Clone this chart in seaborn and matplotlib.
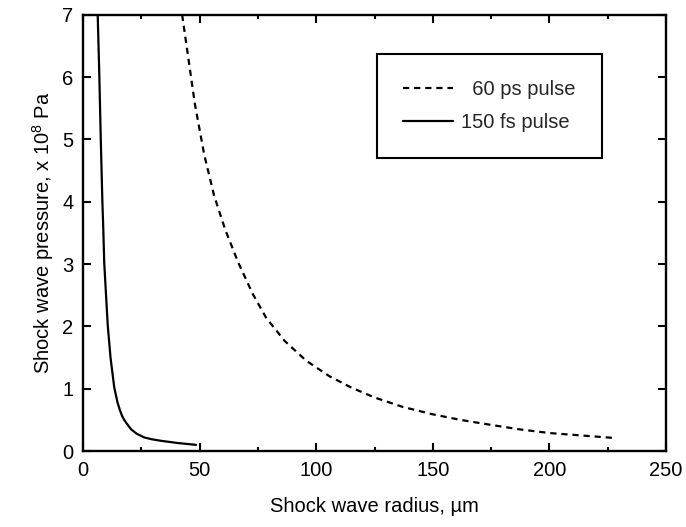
"""Shock wave pressure vs radius for 60 ps and 150 fs laser pulses."""

import matplotlib.pyplot as plt
import pandas as pd
import seaborn as sns
from matplotlib.ticker import MultipleLocator

# values
ps_radius = [42.5, 48, 52, 56.2, 61, 66.5, 72.8, 78.5, 86.4, 95.7, 105.7, 115, 125,
             137, 150, 162, 175, 187, 200, 214, 228]
ps_pressure = [7.0, 5.56, 4.75, 4.1, 3.55, 3.03, 2.52, 2.14, 1.77, 1.45, 1.20, 1.02, 0.86,
               0.71, 0.59, 0.50, 0.42, 0.35, 0.29, 0.25, 0.21]

fs_radius = [6.3, 7.0, 7.6, 8.3, 8.7, 9.1, 10.6, 11.8, 13.4, 14.8, 15.8, 16.8, 17.7,
             18.8, 20.6, 23.0, 26.2, 29.5, 33.5, 40.6, 48.5]
fs_pressure = [7.0, 6.02, 5.03, 4.01, 3.56, 3.02, 2.02, 1.5, 1.02, 0.78, 0.66, 0.56, 0.50,
               0.44, 0.35, 0.28, 0.22, 0.19, 0.165, 0.13, 0.10]

ps_label = "  60 ps pulse"
fs_label = "150 fs pulse"

sns.set_theme(style="ticks")
plt.rcParams["font.family"] = ["Liberation Sans", "DejaVu Sans"]
plt.rcParams["mathtext.fontset"] = "custom"
plt.rcParams["mathtext.rm"] = "Liberation Sans"
plt.rcParams["mathtext.it"] = "Liberation Sans"

ps_df = pd.DataFrame({"radius": ps_radius, "pressure": ps_pressure})
fs_df = pd.DataFrame({"radius": fs_radius, "pressure": fs_pressure})

fig = plt.figure(figsize=(6.86, 5.27), dpi=100)
ax = fig.add_axes([0.121, 0.144, 0.850, 0.828])

sns.lineplot(data=ps_df, x="radius", y="pressure", ax=ax, color="black",
             linewidth=1.6, sort=False, estimator=None, label=ps_label)
ax.lines[-1].set_dashes((2.8, 2.2))
sns.lineplot(data=fs_df, x="radius", y="pressure", ax=ax, color="black",
             linewidth=1.6, sort=False, estimator=None, label=fs_label)

ax.set_xlim(0, 250)
ax.set_ylim(0, 7)
ax.xaxis.set_major_locator(MultipleLocator(50))
ax.xaxis.set_minor_locator(MultipleLocator(25))
ax.yaxis.set_major_locator(MultipleLocator(1))

ax.tick_params(which="both", direction="in", top=True, right=True,
               color="black", width=1.5, labelsize=14.5, labelcolor="black")
ax.tick_params(which="major", length=6, pad=7)
ax.tick_params(which="minor", length=3)
for spine in ax.spines.values():
    spine.set_color("black")
    spine.set_linewidth(1.7)

ax.set_xlabel("Shock wave radius, µm", fontsize=14.5, color="black", labelpad=12)
ax.set_ylabel("Shock wave pressure, x 10$^8$ Pa", fontsize=14.5, color="black", labelpad=4)

leg = ax.legend(loc="upper left", bbox_to_anchor=(0.504, 0.911), borderaxespad=0,
                fontsize=14.5, frameon=True, fancybox=False, edgecolor="black",
                framealpha=1, borderpad=1.3, handlelength=2.5, handletextpad=0.4,
                labelspacing=0.7)
leg.get_frame().set_linewidth(1.5)

fig.savefig("out.png", dpi=100)
